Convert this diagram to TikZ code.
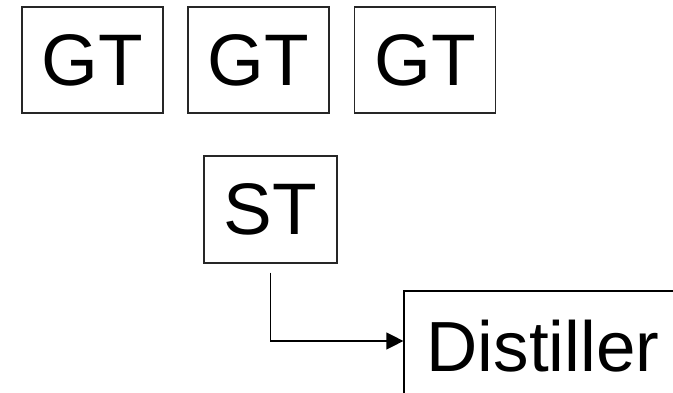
\documentclass[tikz,border=0pt]{standalone}
\usepackage{fontspec}
\setmainfont{Liberation Sans}
\usetikzlibrary{arrows.meta}
\begin{document}
\begin{tikzpicture}[x=1pt,y=-1pt,
  unit/.style={draw=black!85,line width=1.2pt,rectangle,inner sep=0pt,
    minimum width=141pt,minimum height=106pt,font=\fontsize{73}{73}\selectfont},
  flow/.style={draw=black,line width=1.3pt,-{Triangle[length=17pt,width=17pt]}}]
\useasboundingbox (0,0) rectangle (673,393);
\clip (0,0) rectangle (673,393);
\fill[white] (0,0) rectangle (673,393);
\node[unit] (gt1) at (92.5,60) {GT};
\node[unit] (gt2) at (258.5,60) {GT};
\node[unit] (gt3) at (425,60) {GT};
\node[unit,minimum width=133pt,minimum height=107pt] (st) at (270.5,209.5) {ST};
\node[unit,draw=black,minimum width=278pt,minimum height=110pt,font=\fontsize{71}{71}\selectfont] (dist) at (543,346) {Distiller};
\coordinate (din) at ([yshift=5pt]dist.west);
\draw[flow,shorten <=9pt] (st.south) |- (din);
\end{tikzpicture}
\end{document}
